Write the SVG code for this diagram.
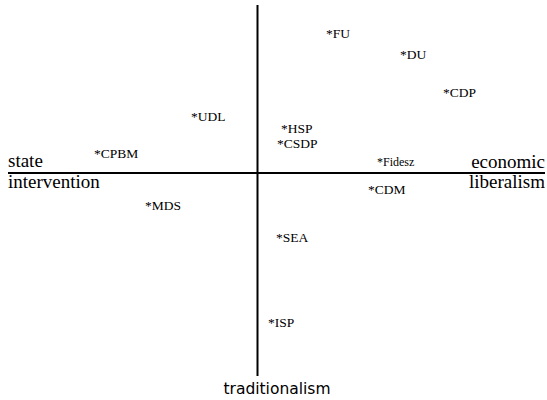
<svg xmlns="http://www.w3.org/2000/svg" width="547" height="400" viewBox="0 0 547 400">
<style>
.ax{stroke:#000;stroke-width:2;fill:none}
.lab{font-family:"Liberation Serif","Times New Roman",serif;font-size:19px;fill:#000}
.p{font-family:"Liberation Serif","Times New Roman",serif;font-size:13.5px;fill:#000}
.t{font-family:"DejaVu Sans",sans-serif;font-size:15.5px;fill:#000}
</style>
<rect width="547" height="400" fill="#fff"/>
<g id="axes">
<line class="ax" x1="257.5" y1="5" x2="257.5" y2="376"/>
<line class="ax" x1="8" y1="173" x2="545" y2="173"/>
</g>
<g id="axis-labels">
<text class="lab" x="8" y="167">state</text>
<text class="lab" x="8" y="188">intervention</text>
<text class="lab" x="545" y="168" text-anchor="end">economic</text>
<text class="lab" x="545" y="188" text-anchor="end">liberalism</text>
<text class="t" x="277" y="394" text-anchor="middle">traditionalism</text>
</g>
<g id="FU"><text class="p" x="326" y="38">*FU</text></g>
<g id="DU"><text class="p" x="400" y="59">*DU</text></g>
<g id="CDP"><text class="p" x="443" y="97">*CDP</text></g>
<g id="UDL"><text class="p" x="191" y="121">*UDL</text></g>
<g id="HSP"><text class="p" x="281" y="133">*HSP</text></g>
<g id="CSDP"><text class="p" x="277" y="148">*CSDP</text></g>
<g id="CPBM"><text class="p" x="94" y="158">*CPBM</text></g>
<g id="Fidesz"><text class="p" x="377" y="166" style="font-size:12px">*Fidesz</text></g>
<g id="CDM"><text class="p" x="368" y="194">*CDM</text></g>
<g id="MDS"><text class="p" x="145" y="210">*MDS</text></g>
<g id="SEA"><text class="p" x="276" y="242">*SEA</text></g>
<g id="ISP"><text class="p" x="268" y="327">*ISP</text></g>
</svg>
